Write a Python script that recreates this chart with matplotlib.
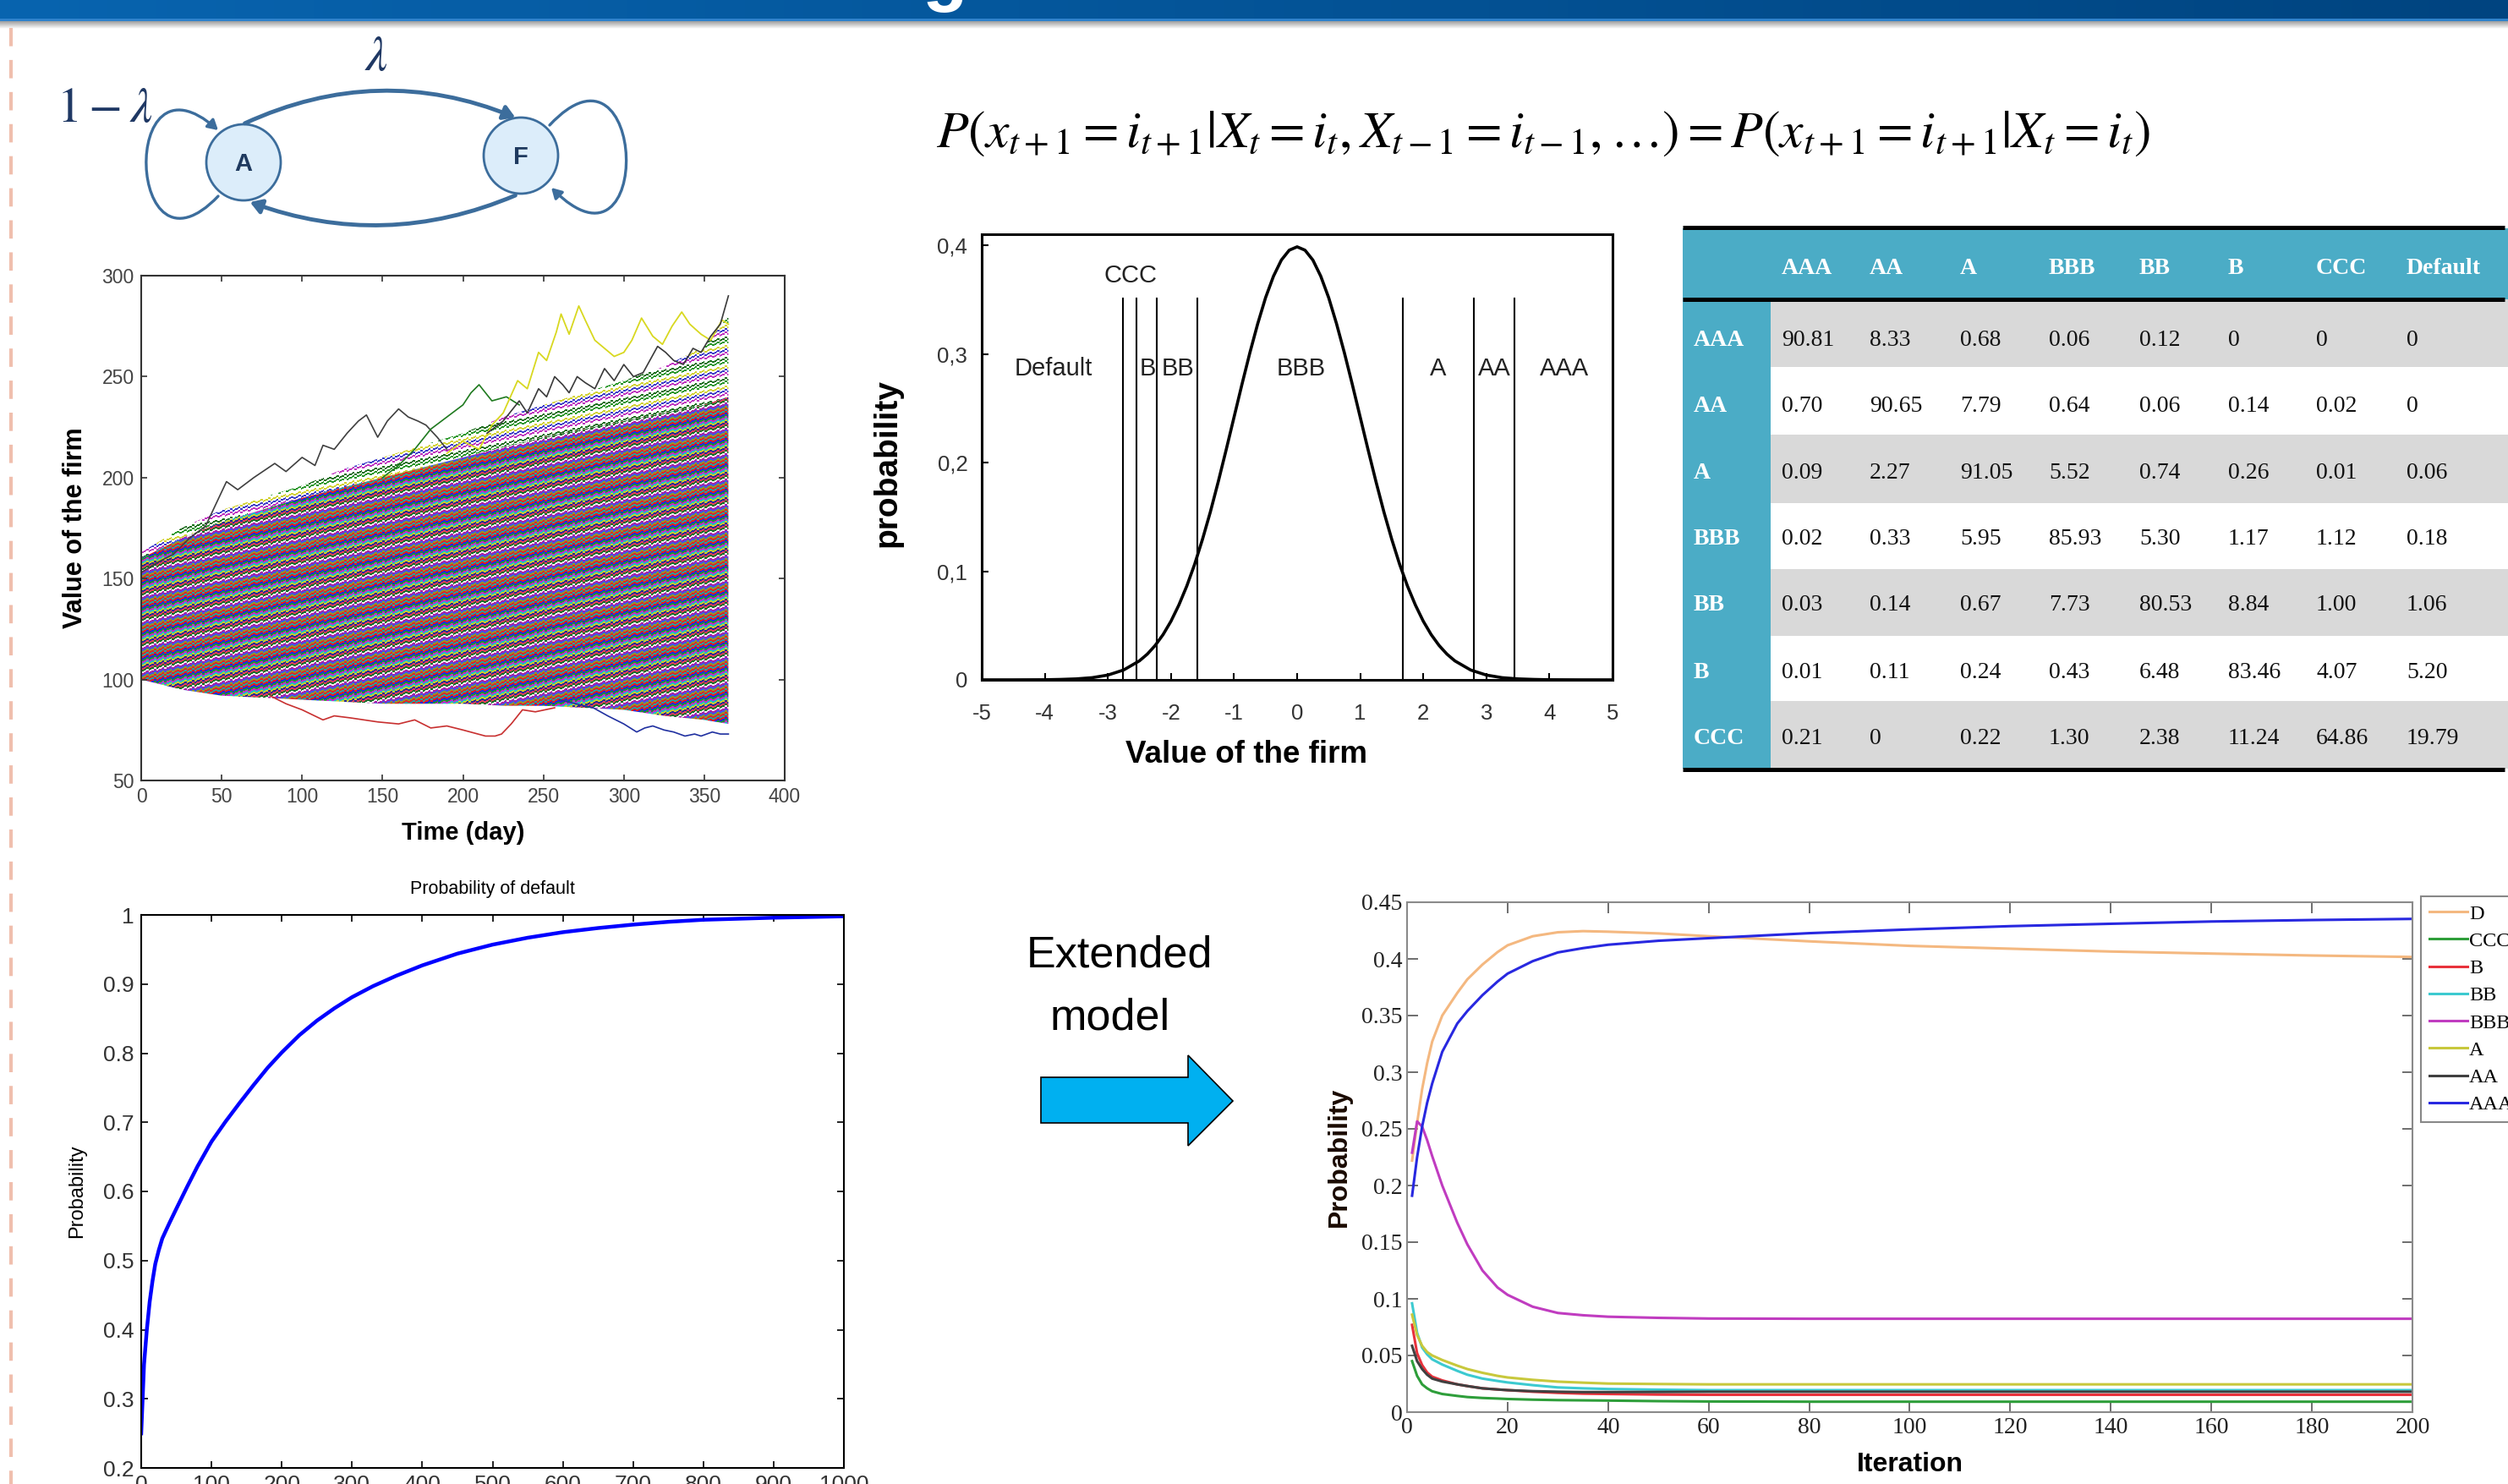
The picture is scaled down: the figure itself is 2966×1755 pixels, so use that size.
import numpy as np
import matplotlib.pyplot as plt
from matplotlib.patches import Rectangle, Ellipse, FancyArrowPatch, Polygon
from matplotlib.path import Path
import matplotlib.ticker as tkr

plt.rcParams['mathtext.fontset'] = 'stix'
plt.rcParams['axes.unicode_minus'] = False

W, H = 2966, 1755

# ---- simulated firm values (envelope of the paths + a few visible paths)
rw_days = [0, 25, 50, 75, 100, 125, 150, 175, 200, 225, 250, 275, 300, 325, 350, 365]
rw_hi = [160, 170, 178, 184, 190, 195, 200, 205, 210, 215, 220, 224, 228, 232, 236, 240]
rw_lo = [100, 95, 92, 91, 90, 89, 88, 88, 88, 87, 87, 86, 85, 82, 80, 78]
rw_top = [163, 175, 184, 190, 196, 204, 210, 216, 222, 230, 236, 242, 248, 255, 265, 280]

yellow_d = [190, 200, 210, 218, 225, 234, 240, 247, 252, 258, 261, 266, 272, 276, 282, 288, 294, 300, 305, 311, 318, 324, 330, 336, 341, 348, 354, 361, 365]
yellow_v = [212, 218, 214, 226, 232, 248, 244, 262, 258, 272, 281, 271, 285, 278, 268, 264, 260, 262, 268, 279, 270, 266, 275, 282, 276, 271, 268, 278, 276]
gray_d = [215, 225, 235, 240, 247, 252, 257, 262, 266, 271, 276, 282, 288, 294, 300, 306, 312, 321, 326, 331, 337, 343, 348, 354, 360, 365]
gray_v = [222, 228, 238, 232, 244, 240, 250, 246, 242, 250, 247, 244, 254, 248, 256, 250, 252, 265, 262, 258, 256, 264, 262, 270, 276, 290]
black_d = [0, 10, 20, 30, 40, 53, 60, 70, 83, 90, 100, 108, 113, 120, 128, 135, 140, 147, 153, 160, 166, 172, 177, 184, 190]
black_v = [153, 158, 162, 170, 176, 198, 194, 200, 207, 203, 210, 206, 216, 214, 222, 228, 231, 220, 228, 234, 230, 228, 226, 220, 214]
green_d = [150, 160, 170, 180, 190, 200, 205, 210, 218, 227, 235]
green_v = [200, 206, 214, 224, 230, 236, 242, 246, 238, 240, 236]
red_d = [80, 90, 100, 113, 120, 130, 147, 160, 170, 180, 190, 200, 214, 220, 224, 230, 237, 245, 257]
red_v = [92, 88, 85, 80, 82, 81, 79, 78, 80, 76, 77, 75, 72, 72, 73, 78, 85, 84, 86]
blue_d = [260, 270, 281, 290, 300, 308, 313, 318, 325, 331, 338, 344, 348, 355, 360, 365]
blue_v = [90, 88, 86, 82, 78, 74, 76, 77, 75, 74, 72, 73, 72, 74, 73, 73]

# ---- rating thresholds on the normal curve (right half, mirrored: symmetric curve)
nd_xr = [0, 0.125, 0.25, 0.375, 0.5, 0.625, 0.75, 0.875, 1.0, 1.125, 1.25, 1.375, 1.5, 1.625,
         1.75, 1.875, 2.0, 2.125, 2.25, 2.375, 2.5, 2.75, 3.0, 3.25, 3.5, 3.75, 4.0, 4.5, 5.0]
nd_yr = [0.3989, 0.3958, 0.3867, 0.3718, 0.3521, 0.3280, 0.3011, 0.2721, 0.2420, 0.2119, 0.1826,
         0.1548, 0.1295, 0.1064, 0.0863, 0.0689, 0.0540, 0.0417, 0.0317, 0.0237, 0.0175, 0.0091,
         0.0044, 0.0020, 0.0009, 0.0004, 0.0001, 0.0000, 0.0000]
cut_x = [-2.76, -2.55, -2.22, -1.58, 1.67, 2.80, 3.45]
band_names = ['Default', 'B', 'BB', 'BBB', 'A', 'AA', 'AAA']
band_pos = [-3.86, -2.37, -1.89, 0.06, 2.24, 3.13, 4.23]

# ---- transition matrix
ratings = ['AAA', 'AA', 'A', 'BBB', 'BB', 'B', 'CCC']
tab_cols = ratings + ['Default']
tab_vals = [
    ['90.81', '8.33', '0.68', '0.06', '0.12', '0', '0', '0'],
    ['0.70', '90.65', '7.79', '0.64', '0.06', '0.14', '0.02', '0'],
    ['0.09', '2.27', '91.05', '5.52', '0.74', '0.26', '0.01', '0.06'],
    ['0.02', '0.33', '5.95', '85.93', '5.30', '1.17', '1.12', '0.18'],
    ['0.03', '0.14', '0.67', '7.73', '80.53', '8.84', '1.00', '1.06'],
    ['0.01', '0.11', '0.24', '0.43', '6.48', '83.46', '4.07', '5.20'],
    ['0.21', '0', '0.22', '1.30', '2.38', '11.24', '64.86', '19.79'],
]

# ---- probability of default
pd_x = [0, 2, 4, 8, 12, 16, 20, 25, 30, 40, 50, 65, 80, 100, 120, 140, 160, 180, 200, 225, 250,
        275, 300, 330, 363, 400, 450, 500, 550, 600, 650, 700, 750, 800, 900, 1000]
pd_y = [0.25, 0.30, 0.35, 0.40, 0.44, 0.47, 0.495, 0.515, 0.532, 0.554, 0.575, 0.606, 0.636,
        0.672, 0.701, 0.728, 0.754, 0.779, 0.801, 0.826, 0.847, 0.865, 0.881, 0.897, 0.912,
        0.927, 0.944, 0.957, 0.967, 0.975, 0.981, 0.986, 0.99, 0.993, 0.996, 0.998]

# ---- extended model iterations
it_x = [1, 2, 3, 4, 5, 7, 10, 12, 15, 18, 20, 25, 30, 35, 40, 50, 60, 80, 100, 120, 140, 160, 180, 200]
it_D = [0.222, 0.255, 0.285, 0.308, 0.327, 0.350, 0.370, 0.382, 0.395, 0.406, 0.412, 0.420,
        0.4235, 0.4245, 0.424, 0.4225, 0.420, 0.4155, 0.4115, 0.409, 0.4065, 0.4047, 0.403, 0.4017]
it_CCC = [0.045, 0.032, 0.0245, 0.021, 0.0184, 0.016, 0.0143, 0.0133, 0.0125, 0.012, 0.0116, 0.011,
          0.0106, 0.0104, 0.0102, 0.0097, 0.0094, 0.0092, 0.0092, 0.0092, 0.0092, 0.0092, 0.0092, 0.0092]
it_B = [0.077, 0.052, 0.0415, 0.035, 0.0313, 0.028, 0.0245, 0.023, 0.021, 0.020, 0.0194, 0.018,
        0.017, 0.0163, 0.016, 0.0155, 0.0153, 0.0153, 0.0153, 0.0153, 0.0153, 0.0153, 0.0153, 0.0153]
it_BB = [0.096, 0.070, 0.057, 0.051, 0.0466, 0.042, 0.0364, 0.033, 0.0296, 0.0275, 0.0262, 0.0238,
         0.0218, 0.021, 0.0204, 0.0198, 0.0194, 0.0194, 0.0194, 0.0194, 0.0194, 0.0194, 0.0194, 0.0194]
it_BBB = [0.229, 0.2566, 0.252, 0.240, 0.226, 0.200, 0.167, 0.148, 0.125, 0.110, 0.1035, 0.093,
          0.0875, 0.0855, 0.0842, 0.0832, 0.0826, 0.0824, 0.0824, 0.0824, 0.0824, 0.0824, 0.0824, 0.0824]
it_A = [0.086, 0.068, 0.0585, 0.053, 0.050, 0.046, 0.041, 0.038, 0.0347, 0.032, 0.0306, 0.0285,
        0.0269, 0.026, 0.0252, 0.0248, 0.0245, 0.0245, 0.0245, 0.0245, 0.0245, 0.0245, 0.0245, 0.0245]
it_AA = [0.0585, 0.045, 0.038, 0.033, 0.0296, 0.027, 0.0245, 0.023, 0.021, 0.020, 0.0194, 0.0185,
         0.018, 0.0177, 0.0177, 0.0178, 0.018, 0.018, 0.018, 0.018, 0.018, 0.018, 0.018, 0.018]
it_AAA = [0.191, 0.225, 0.252, 0.273, 0.290, 0.318, 0.343, 0.354, 0.368, 0.380, 0.387, 0.398,
          0.4057, 0.4095, 0.4125, 0.416, 0.4183, 0.4227, 0.426, 0.4289, 0.431, 0.433, 0.4343, 0.4353]
it_names = ['D', 'CCC', 'B', 'BB', 'BBB', 'A', 'AA', 'AAA']
it_series = [it_D, it_CCC, it_B, it_BB, it_BBB, it_A, it_AA, it_AAA]
it_colors = ['#F4B880', '#2E9E3A', '#E8323C', '#3CCAD0', '#C03CC0', '#C8C83C', '#404040', '#2828E0']


fig = plt.figure(figsize=(W / 100, H / 100), dpi=100)


def px_axes(x0, y0, x1, y1):
    return fig.add_axes([x0 / W, 1 - y1 / H, (x1 - x0) / W, (y1 - y0) / H])


def label_font(ax, family, size, color='#222'):
    for lab in ax.get_xticklabels() + ax.get_yticklabels():
        lab.set_fontfamily(family)
        lab.set_fontsize(size)
        lab.set_color(color)


def stripe_texture(palette, nrow, ncol):
    # slanted coloured dashes used as a fill texture for the cloud of paths
    pal = np.array(palette) / 255.0
    r = np.arange(nrow)[:, None]
    c = np.arange(ncol)[None, :]
    idx = ((r + c // 5 + (c // 3) % 3) // 2) % len(pal)
    return pal[idx]


sans = ['Liberation Sans', 'DejaVu Sans']
serif = ['Liberation Serif', 'DejaVu Serif']

# ================= random walk panel
ax1 = px_axes(167, 326, 928, 923)
dense_pal = [(228, 30, 30), (30, 40, 225), (30, 150, 45), (200, 40, 200), (30, 190, 200),
             (205, 205, 40), (40, 40, 150), (230, 60, 90), (20, 110, 40), (235, 235, 235),
             (170, 30, 170), (60, 90, 230), (150, 150, 40), (220, 40, 40), (40, 160, 160)]
sparse_pal = [(40, 150, 40), (255, 255, 255), (255, 255, 255), (210, 210, 50), (255, 255, 255),
              (60, 60, 200), (255, 255, 255), (190, 50, 190), (255, 255, 255), (255, 255, 255),
              (30, 110, 30), (255, 255, 255)]
sparse = ax1.fill_between(rw_days, rw_hi, rw_top, facecolor='none', lw=0)
dense = ax1.fill_between(rw_days, rw_lo, rw_hi, facecolor='none', lw=0)
im_s = ax1.imshow(stripe_texture(sparse_pal, 597, 761), extent=[0, 400, 50, 300],
                  aspect='auto', interpolation='nearest', zorder=1)
im_s.set_clip_path(sparse.get_paths()[0], transform=ax1.transData)
im_d = ax1.imshow(stripe_texture(dense_pal, 597, 761), extent=[0, 400, 50, 300],
                  aspect='auto', interpolation='nearest', zorder=1)
im_d.set_clip_path(dense.get_paths()[0], transform=ax1.transData)
ax1.plot(black_d, black_v, color='#404040', lw=1.2, zorder=2)
ax1.plot(green_d, green_v, color='#1f7a1f', lw=1.2, zorder=2)
ax1.plot(yellow_d, yellow_v, color='#d8d820', lw=1.3, zorder=2)
ax1.plot(gray_d, gray_v, color='#3a3a3a', lw=1.2, zorder=2)
ax1.plot(red_d, red_v, color='#c83030', lw=1.2, zorder=2)
ax1.plot(blue_d, blue_v, color='#2030a0', lw=1.2, zorder=2)
ax1.set_xlim(0, 400)
ax1.set_ylim(50, 300)
ax1.set_xticks(range(0, 401, 50))
ax1.set_yticks(range(50, 301, 50))
ax1.tick_params(direction='in', top=True, right=True, length=5, width=1.2, color='#333', pad=6)
for s in ax1.spines.values():
    s.set_color('#333')
    s.set_linewidth(1.5)
label_font(ax1, sans, 16.5, '#444')
ax1.set_xlabel('Time (day)', fontsize=21, fontweight='bold', family=sans, labelpad=12)
ax1.set_ylabel('Value of the firm', fontsize=22, fontweight='bold', family=sans, labelpad=12)

# ================= normal distribution panel
ax2 = px_axes(1161, 277, 1907, 804)
nd_x = [-v for v in nd_xr[::-1]] + nd_xr[1:]
nd_y = nd_yr[::-1] + nd_yr[1:]
ax2.plot(nd_x, nd_y, color='black', lw=2.6)
for cx in cut_x:
    ax2.plot([cx, cx], [0, 0.351], color='black', lw=1.5)
for name, bx in zip(band_names, band_pos):
    ax2.text(bx, 0.287, name, ha='center', va='center', fontsize=21, family=sans, color='#222')
ax2.text(-2.64, 0.372, 'CCC', ha='center', va='center', fontsize=21, family=sans, color='#222')
ax2.set_xlim(-5, 5)
ax2.set_ylim(0, 0.4105)
ax2.set_xticks(range(-5, 6))
ax2.set_yticks([0, 0.1, 0.2, 0.3, 0.4])
ax2.yaxis.set_major_formatter(tkr.FuncFormatter(lambda v, p: ('%g' % round(v, 2)).replace('.', ',')))
ax2.tick_params(direction='in', length=6, width=1.5, pad=12)
ax2.tick_params(axis='x', pad=20)
for s in ax2.spines.values():
    s.set_linewidth(2.2)
label_font(ax2, sans, 18.5, '#333')
ax2.set_xlabel('Value of the firm', fontsize=26.5, fontweight='bold', family=sans)
ax2.set_ylabel('probability', fontsize=28, fontweight='bold', family=sans)
ax2.xaxis.set_label_coords(0.42, -0.135)
ax2.yaxis.set_label_coords(-0.125, 0.486)

# ================= probability of default panel
ax3 = px_axes(167, 1082, 998, 1736)
ax3.plot(pd_x, pd_y, color='#0000ff', lw=3.2)
ax3.set_xlim(0, 1000)
ax3.set_ylim(0.2, 1)
ax3.set_xticks(range(0, 1001, 100))
ax3.set_yticks([0.2, 0.3, 0.4, 0.5, 0.6, 0.7, 0.8, 0.9, 1])
ax3.yaxis.set_major_formatter(tkr.FuncFormatter(lambda v, p: '%g' % round(v, 2)))
ax3.tick_params(direction='in', top=True, right=True, length=6, width=1.2, pad=6)
for s in ax3.spines.values():
    s.set_linewidth(1.5)
label_font(ax3, sans, 19, '#333')
ax3.set_title('Probability of default', fontsize=15.5, family=sans, pad=18)
ax3.set_ylabel('Probability', fontsize=17, family=sans, labelpad=14)

# ================= extended model panel
ax4 = px_axes(1664, 1067, 2853, 1670)
for name, ys, col in zip(it_names, it_series, it_colors):
    ax4.plot(it_x, ys, color=col, lw=2.2, label=name)
ax4.set_xlim(0, 200)
ax4.set_ylim(0, 0.45)
ax4.set_xticks(range(0, 201, 20))
ax4.set_yticks([0, 0.05, 0.1, 0.15, 0.2, 0.25, 0.3, 0.35, 0.4, 0.45])
ax4.yaxis.set_major_formatter(tkr.FuncFormatter(lambda v, p: '%g' % round(v, 2)))
ax4.tick_params(direction='in', top=True, right=True, length=9, width=1.2, color='#555', pad=4)
for s in ax4.spines.values():
    s.set_color('#8a8a8a')
    s.set_linewidth(1.5)
label_font(ax4, serif, 20, '#222')
ax4.set_xlabel('Iteration', fontsize=23, fontweight='bold', family=sans, labelpad=12)
ax4.set_ylabel('Probability', fontsize=23, fontweight='bold', family=sans, labelpad=8,
               color='#1a0a00')
leg = ax4.legend(loc='upper left', bbox_to_anchor=(2863 / W, 1 - 1060 / H),
                 bbox_transform=fig.transFigure, prop={'family': serif, 'size': 17.5},
                 handlelength=1.85, handletextpad=0.1, labelspacing=0.42, borderpad=0.4,
                 borderaxespad=0, fancybox=False, framealpha=1)
leg.get_frame().set_edgecolor('#888888')
leg.get_frame().set_linewidth(1.5)

# ================= overlay in pixel coordinates
ov = fig.add_axes([0, 0, 1, 1])
ov.set_xlim(0, W)
ov.set_ylim(H, 0)
ov.axis('off')
ov.patch.set_visible(False)

# header bar
grad = np.linspace(0, 1, 256)[None, :, None]
c0 = np.array([8, 100, 175]) / 255
c1 = np.array([0, 68, 128]) / 255
ov.imshow(c0 + (c1 - c0) * grad, extent=[0, W, 24, 0], aspect='auto')
ov.add_patch(Rectangle((0, 22), W, 3, color='#2f82cc', lw=0))
shade = np.linspace(0, 1, 32)[:, None, None] * np.ones((1, 4, 3))
ov.imshow(0.62 + 0.38 * shade, extent=[0, W, 34, 25], aspect='auto')
ov.set_xlim(0, W)
ov.set_ylim(H, 0)
# descender of the slide title, cut by the top edge
ov.text(1117, -3, 'g', ha='center', va='baseline', fontsize=63, fontweight='bold',
        color='white', family=sans)

# dashed margin line
ov.plot([13, 13], [33, H], color='#f0bfae', lw=3, dashes=(5.2, 3.9))

# two-state Markov diagram
blue = '#3c6d9c'
ov.add_patch(Ellipse((288, 192), 88, 90, facecolor='#dcedfa', edgecolor=blue, lw=2))
ov.add_patch(Ellipse((616, 184), 88, 90, facecolor='#dcedfa', edgecolor=blue, lw=2))
ov.text(288, 194, 'A', ha='center', va='center', fontsize=21, fontweight='bold', color='#1f3a5f', family=sans)
ov.text(616, 186, 'F', ha='center', va='center', fontsize=21, fontweight='bold', color='#1f3a5f', family=sans)
ov.add_patch(FancyArrowPatch((287, 147), (612, 140), connectionstyle='arc3,rad=-0.22',
                             arrowstyle='-|>,head_length=8,head_width=5', color=blue, lw=3.5))
ov.add_patch(FancyArrowPatch((612, 230), (293, 238), connectionstyle='arc3,rad=-0.2',
                             arrowstyle='-|>,head_length=8,head_width=5', color=blue, lw=3.5))
loopA = Path([(258, 232), (150, 345), (140, 50), (258, 154)],
             [Path.MOVETO, Path.CURVE4, Path.CURVE4, Path.CURVE4])
ov.add_patch(FancyArrowPatch(path=loopA, arrowstyle='-|>,head_length=7,head_width=4', color=blue, lw=2.4))
loopF = Path([(650, 148), (765, 25), (775, 345), (652, 222)],
             [Path.MOVETO, Path.CURVE4, Path.CURVE4, Path.CURVE4])
ov.add_patch(FancyArrowPatch(path=loopF, arrowstyle='-|>,head_length=7,head_width=4', color=blue, lw=2.4))
ov.text(445, 66, r'$\lambda$', ha='center', va='center', fontsize=42, color='#1f3864')
ov.text(124, 127, r'$1-\lambda$', ha='center', va='center', fontsize=42, color='#1f3864')

# Markov property equation
eq = ov.text(1107, 157, r'$P(x_{t+1}=i_{t+1}|X_t=i_t,X_{t-1}=i_{t-1},\ldots)=P(x_{t+1}=i_{t+1}|X_t=i_t)$',
             ha='left', va='center', fontsize=34, color='black')
fig.canvas.draw()
bw = eq.get_window_extent().width
eq.set_fontsize(34 * 1437 / bw)

# transition matrix table
teal = '#4bacc6'
row_edges = [354, 434, 514, 595, 673, 752, 829, 909]
col_x = [2107, 2211, 2318, 2423, 2530, 2635, 2739, 2846]
row_y = [402, 480, 559, 638, 716, 795, 873]
ov.add_patch(Rectangle((1990, 270), W - 1990, 84, color=teal, lw=0))
for i in range(len(ratings)):
    y0, y1 = row_edges[i], row_edges[i + 1]
    ov.add_patch(Rectangle((2094, y0), W - 2094, y1 - y0, color='#d9d9d9' if i % 2 == 0 else 'white', lw=0))
ov.add_patch(Rectangle((1990, 354), 104, 909 - 354, color=teal, lw=0))
for yy in [269, 354, 910]:
    ov.plot([1990, 2962], [yy, yy], color='black', lw=3.6, solid_capstyle='butt')
for cx, name in zip(col_x, tab_cols):
    ov.text(cx, 317, name, ha='left', va='center', fontsize=20, fontweight='bold', color='white', family=serif)
for i, name in enumerate(ratings):
    ov.text(2003, row_y[i], name, ha='left', va='center', fontsize=20, fontweight='bold', color='white', family=serif)
    for cx, v in zip(col_x, tab_vals[i]):
        ov.text(cx, row_y[i], v, ha='left', va='center', fontsize=20, color='#111', family=serif)

# "Extended model" arrow
ov.text(1324, 1143, 'Extended', ha='center', va='baseline', fontsize=37.5, family=sans)
ov.text(1313, 1218, 'model', ha='center', va='baseline', fontsize=37.5, family=sans)
ov.add_patch(Polygon([(1231, 1274), (1405, 1274), (1405, 1248), (1458, 1302), (1405, 1355),
                      (1405, 1328), (1231, 1328)], closed=True, facecolor='#00b0f0',
                     edgecolor='black', lw=1.2))

fig.savefig('out.png', dpi=100)
